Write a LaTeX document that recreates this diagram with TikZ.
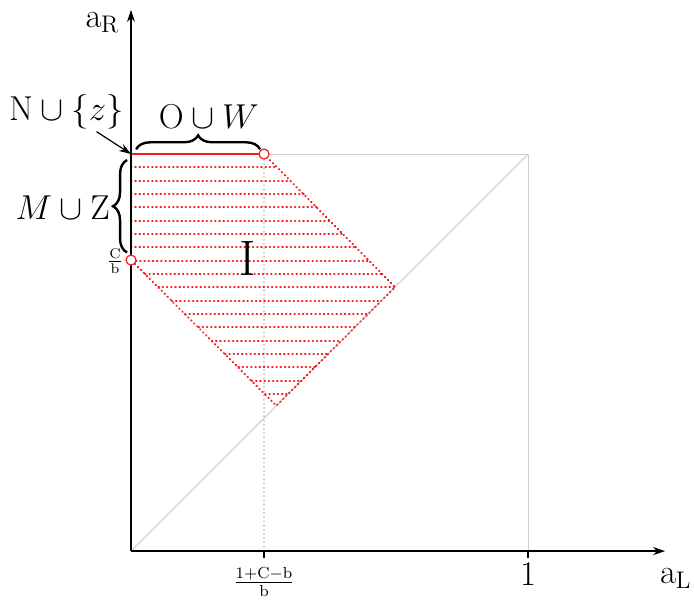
\documentclass[tikz,border=0pt]{standalone}
\usetikzlibrary{decorations.pathreplacing,arrows.meta}
\definecolor{regred}{RGB}{240,30,30}
\definecolor{lgray}{RGB}{205,205,205}
\tikzset{
  axis/.style={line width=0.6pt,-{Stealth[length=6pt,width=4pt]}},
  boxline/.style={lgray,line width=0.5pt},
  reddot/.style={draw=regred,line width=1pt,line cap=round,dash pattern=on 0.3pt off 1.8pt},
  redsolid/.style={draw=regred,line width=0.8pt},
  graydot/.style={draw=lgray,line width=0.9pt,line cap=round,dash pattern=on 0.3pt off 1.8pt},
  bracestyle/.style={decorate,decoration={brace,amplitude=7pt},line width=1.2pt},
  opencirc/.style={circle,draw=regred,line width=0.6pt,fill=white,inner sep=0pt,minimum size=5pt},
  lbl/.style={inner sep=1pt},
  big/.style={font=\fontsize{16.5pt}{18pt}\selectfont}
}
\begin{document}
\begin{tikzpicture}[x=198.5pt,y=198.5pt]
\useasboundingbox (-0.33,-0.126) rectangle (1.418,1.388);
\coordinate (O) at (0,0);
\coordinate (A) at (0,1);
\coordinate (B) at (0.335,1);
\coordinate (C) at (0.665,0.665);
\coordinate (D) at (0.366,0.366);
\coordinate (E) at (0,0.733);
\coordinate (Q) at (1,1);
\coordinate (P) at (1,0);
\coordinate (T) at (0.335,0);
\coordinate (XE) at (1.345,0);
\coordinate (YE) at (0,1.363);
% gray box and diagonal
\draw[boxline] (B) -- (Q) -- (P);
\draw[boxline] (O) -- (Q);
\draw[graydot] (T) -- (B);
% hatching
\foreach \k in {1,...,18}{
  \pgfmathsetmacro{\yy}{1-\k*0.0336}
  \pgfmathsetmacro{\xl}{max(0,0.733-\yy)}
  \pgfmathsetmacro{\xr}{\yy<0.665 ? \yy : 1.335-\yy}
  \draw[reddot] (\xl,\yy) -- (\xr,\yy);
}
\draw[reddot] (B) -- (C) -- (D) -- (E);
\draw[redsolid] (E) -- (A) -- (B);
% axes
\draw[axis] (O) -- (XE);
\draw[axis] (O) -- (YE);
\draw[line width=0.6pt] (T) -- ++(0,-0.018);
\draw[line width=0.6pt] (P) -- ++(0,-0.018);
\node[opencirc] (cB) at (B) {};
\node[opencirc] (cE) at (E) {};
% labels
\node[lbl,big] (aR) at (-0.072,1.332) {$\mathrm{a}_{\mathrm{R}}$};
\node[lbl,big] (aL) at (1.372,-0.07) {$\mathrm{a}_{\mathrm{L}}$};
\node[lbl,big] (one) at (1,-0.058) {$1$};
\node[lbl,font=\large] (frac) at (0.335,-0.078) {$\frac{1+\mathrm{C}-\mathrm{b}}{\mathrm{b}}$};
\node[lbl] (cb) at (-0.04,0.73) {$\frac{\mathrm{C}}{\mathrm{b}}$};
\node[lbl,font=\Huge] (I) at (0.295,0.738) {$\mathrm{I}$};
\draw[bracestyle] (0.013,1.012) -- (0.325,1.012);
\node[lbl,big] (OW) at (0.196,1.093) {$\mathrm{O}\cup W$};
\draw[bracestyle] (-0.01,0.752) -- (-0.01,0.985);
\node[lbl,big] (MZ) at (-0.172,0.864) {$M\cup \mathrm{Z}$};
\node[lbl,big] (NZ) at (-0.163,1.106) {$\mathrm{N}\cup\{z\}$};
\draw[line width=0.6pt,-{Stealth[length=6pt,width=4pt]}] (NZ) -- (A);
\end{tikzpicture}
\end{document}
